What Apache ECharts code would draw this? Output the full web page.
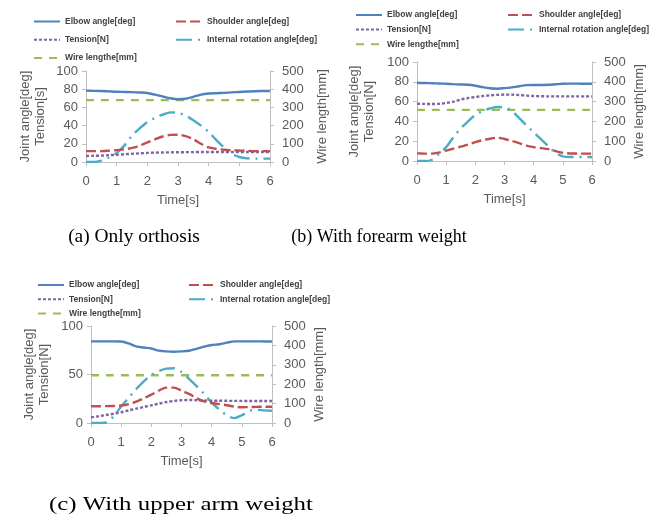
<!DOCTYPE html>
<html>
<head>
<meta charset="utf-8">
<script src="https://cdn.jsdelivr.net/npm/echarts@6/dist/echarts.min.js"></script>
<style>
  html, body { margin: 0; background: #fff; }
  #chart { width: 662px; height: 517px; }
</style>
</head>
<body>
<div id="chart"></div>
<script>
// Shared time base, seconds.
const TIME = [0, 0.25, 0.5, 0.75, 1, 1.25, 1.5, 1.75, 2, 2.25, 2.5, 2.75, 3,
  3.25, 3.5, 3.75, 4, 4.25, 4.5, 4.75, 5, 5.25, 5.5, 5.75, 6]
// Wire length is flat in every run: read at both ends only.
const WIRE_TIME = [0, 6]

const NAMES = ["Elbow angle[deg]", "Shoulder angle[deg]", "Tension[N]",
  "Internal rotation angle[deg]", "Wire lengthe[mm]"]

// (a) Only orthosis
const A_ELBOW = [78.4, 78.2, 78, 77.6, 77.2, 77, 76.8, 76.4, 75.8, 74, 72, 70, 69,
  69.5, 71.5, 74, 75.2, 75.6, 76, 76.5, 77, 77.4, 77.8, 78, 78]
const A_SHOULDER = [12, 12, 12, 12.4, 13, 14, 15.5, 18, 21.5, 25, 28, 29.8, 30,
  28.5, 25, 20, 16, 14.5, 13.5, 13, 12.6, 12.3, 12, 12, 12]
const A_TENSION = [6.6, 6.8, 7, 7.5, 8, 8.5, 9, 9.5, 10, 10.3, 10.5, 10.6, 10.7,
  10.8, 10.9, 11, 11, 11, 11, 11, 11, 11, 11, 11, 11]
const A_INTERNAL = [0, 0, 1.5, 5, 10, 18, 29, 37, 44, 48.5, 52, 54.5, 54,
  51, 46, 40, 33, 24, 16, 9, 5.5, 4, 3.7, 3.7, 3.7]
const A_WIRE = [340, 340]

// (b) With forearm weight
const B_ELBOW = [78.8, 78.8, 78.6, 78.3, 78, 77.6, 77.3, 77, 76, 74.6, 73.5, 73, 73.6,
  74.4, 75.5, 76.6, 76.8, 76.8, 77, 77.5, 78, 78.2, 78.2, 78, 78]
const B_SHOULDER = [7.7, 7.5, 7.4, 8.5, 10.5, 12.5, 14.5, 16.5, 19, 21, 22.5, 23.5, 22.2,
  20.3, 18, 15.5, 14, 13, 12, 10, 8.3, 7.6, 7.5, 7.5, 7.5]
const B_TENSION = [57.9, 57.7, 57.6, 57.8, 58.6, 60, 62, 63.6, 64.6, 65.6, 66.3, 66.8, 67,
  67, 66.6, 66.1, 65.7, 65.4, 65.3, 65.3, 65.3, 65.3, 65.3, 65.3, 65.3]
const B_INTERNAL = [0, 0, 1, 7, 14, 24, 33, 40, 46.5, 50.5, 53, 54.5, 54,
  50.5, 43.5, 36, 29, 22, 15, 8.5, 4.6, 4, 4, 4, 4]
const B_WIRE = [258, 258]

// (c) With upper arm weight
const C_ELBOW = [84.2, 84.2, 84.2, 84.2, 84, 82, 79, 77.8, 76.8, 74.6, 73.8, 73.5, 73.8,
  74.5, 76.5, 78.8, 80.4, 81.2, 82.8, 84.2, 84.2, 84.2, 84.2, 84, 84]
const C_SHOULDER = [17.2, 17.3, 17.4, 17.6, 18, 19.5, 22, 25.5, 29.2, 33.5, 36.5, 36.5, 33.3,
  30, 25.5, 22.2, 20.6, 19.5, 18.3, 17, 16.2, 16.4, 16.6, 16.8, 16.8]
const C_TENSION = [5.8, 7, 8.3, 9.5, 11, 13, 14.8, 16.5, 18.2, 20, 21.6, 22.8, 23.5,
  23.7, 23.5, 23.2, 23, 23, 22.9, 22.8, 22.8, 22.7, 22.7, 22.7, 22.7]
const C_INTERNAL = [0, 0, 0.5, 7, 17, 26, 35, 43, 49.5, 53.5, 56, 56.5, 52.6,
  45.5, 38, 30, 21, 14, 8, 5, 8, 12.5, 13.6, 13, 12.7]
const C_WIRE = [246, 246]

// Office-2010 palette + dash patterns of the original spreadsheet charts.
const LINE_STYLES = [
  {color: "#4f81bd", type: "solid"},
  {color: "#c0504d", type: [10, 4]},
  {color: "#8064a2", type: [3, 2]},
  {color: "#4bacc6", type: [16, 6, 2, 6]},
  {color: "#9bbb59", type: [8, 7]},
]

const LABEL_COLOR = "#595959"
const AXIS_COLOR = "#bfbfbf"
const SANS = "Liberation Sans"

const panels = [
  {
    series: [A_ELBOW, A_SHOULDER, A_TENSION, A_INTERNAL, A_WIRE],
    grid: {left: 86, top: 71, width: 184, height: 91},
    leftInterval: 20, leftName: "Joint angle[deg]\nTension[s]", leftGap: 38, rightGap: 45,
    legend: {top: 16.5, gap: 8.3, col1: 33, col2: 175},
    caption: {text: "(a) Only orthosis", x: 134, y: 237, scaleX: 1.08},
  },
  {
    series: [B_ELBOW, B_SHOULDER, B_TENSION, B_INTERNAL, B_WIRE],
    grid: {left: 417, top: 62, width: 175, height: 99},
    leftInterval: 20, leftName: "Joint angle[deg]\nTension[N]", leftGap: 40, rightGap: 40,
    legend: {top: 10, gap: 4.6, col1: 355, col2: 507},
    caption: {text: "(b) With forearm weight", x: 379, y: 237, scaleX: 1},
  },
  {
    series: [C_ELBOW, C_SHOULDER, C_TENSION, C_INTERNAL, C_WIRE],
    grid: {left: 91, top: 326, width: 181, height: 97},
    leftInterval: 50, leftName: "Joint angle[deg]\nTension[N]", leftGap: 39, rightGap: 40,
    legend: {top: 280, gap: 4.2, col1: 37, col2: 188},
    caption: {text: "(c) With upper arm weight", x: 181, y: 505, scaleX: 1.38},
  },
]

const axisLabel = (margin) => ({fontSize: 13, color: LABEL_COLOR, fontFamily: SANS, margin})
const nameStyle = {fontSize: 13, color: LABEL_COLOR, fontFamily: SANS, lineHeight: 15}
const axisLine = {show: true, lineStyle: {color: AXIS_COLOR}}
const axisTick = {show: true, length: 4, lineStyle: {color: AXIS_COLOR}}

const option = {
  animation: false,
  backgroundColor: "#fff",
  grid: [], xAxis: [], yAxis: [], legend: [], series: [], graphic: [],
}

panels.forEach((p, i) => {
  option.grid.push(p.grid)
  option.xAxis.push({
    gridIndex: i, type: "value", min: 0, max: 6, interval: 1,
    name: "Time[s]", nameLocation: "middle", nameGap: 31, nameTextStyle: nameStyle,
    axisLine, axisTick, axisLabel: axisLabel(13), splitLine: {show: false},
  })
  option.yAxis.push({
    gridIndex: i, type: "value", position: "left", min: 0, max: 100, interval: p.leftInterval,
    name: p.leftName, nameLocation: "middle", nameRotate: 90, nameGap: p.leftGap,
    nameTextStyle: nameStyle,
    axisLine, axisTick, axisLabel: axisLabel(8), splitLine: {show: false},
  })
  option.yAxis.push({
    gridIndex: i, type: "value", position: "right", min: 0, max: 500, interval: 100,
    name: "Wire length[mm]", nameLocation: "middle", nameRotate: 90, nameGap: p.rightGap,
    nameTextStyle: nameStyle,
    axisLine, axisTick, axisLabel: axisLabel(12), splitLine: {show: false},
  })

  p.series.forEach((values, k) => {
    const isWire = k === 4
    const times = isWire ? WIRE_TIME : TIME
    option.series.push({
      name: NAMES[k],
      type: "line",
      xAxisIndex: i,
      yAxisIndex: i * 2 + (isWire ? 1 : 0),
      data: times.map((t, j) => [t, values[j]]),
      smooth: 0.3,
      symbol: "none",
      z: 10 - k,
      lineStyle: {width: 2.4, color: LINE_STYLES[k].color, type: LINE_STYLES[k].type},
      itemStyle: {color: LINE_STYLES[k].color},
    })
  })

  // Line-only legend keys: hide the marker, keep the dashed stroke.
  const legendBase = {
    orient: "vertical", top: p.legend.top, itemGap: p.legend.gap, padding: 0,
    itemWidth: 26, itemHeight: 10, selectedMode: false,
    itemStyle: {opacity: 0},
    textStyle: {fontSize: 8.5, fontWeight: "bold", color: "#404040", fontFamily: SANS, lineHeight: 10},
  }
  option.legend.push({...legendBase, left: p.legend.col1, data: [NAMES[0], NAMES[2], NAMES[4]]})
  option.legend.push({...legendBase, left: p.legend.col2, data: [NAMES[1], NAMES[3]]})

  option.graphic.push({
    type: "text", x: p.caption.x, y: p.caption.y, scaleX: p.caption.scaleX,
    style: {
      text: p.caption.text, font: '18px "Liberation Serif"', fill: "#000",
      textAlign: "center", textVerticalAlign: "middle",
    },
  })
})

const chart = echarts.init(document.getElementById("chart"))
chart.setOption(option)
</script>
</body>
</html>
